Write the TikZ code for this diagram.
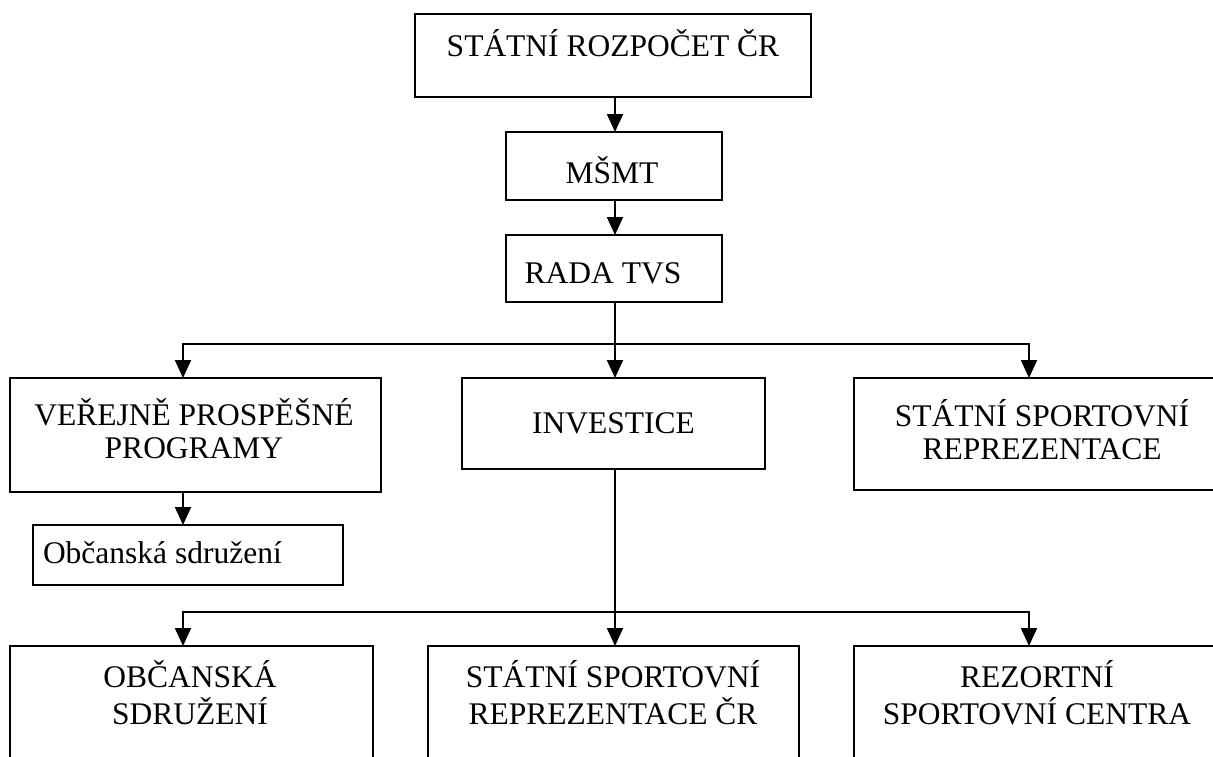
\documentclass[tikz,border=0pt]{standalone}
\usepackage{fontspec}
\setmainfont{Liberation Serif}
\usetikzlibrary{arrows.meta}
\begin{document}
\begin{tikzpicture}[x=1pt,y=-1pt,
  box/.style={draw, line width=1.9pt, rectangle, inner sep=0pt, outer sep=0pt},
  lbl/.style={inner sep=0pt, outer sep=0pt, anchor=base, align=center, font=\fontsize{31.5}{33.5}\selectfont},
  lblb/.style={lbl, font=\fontsize{31.5}{37.5}\selectfont},
  link/.style={line width=1.9pt},
  arr/.style={link, -{Triangle[length=18pt,width=16pt]}}]
\useasboundingbox (0,0) rectangle (1213,756);
\clip (0,0) rectangle (1213,756);
% boxes
\node[box, minimum width=396pt, minimum height=83pt] (b1) at (613,55.5) {};
\node[box, minimum width=216pt, minimum height=68pt] (b2) at (614,166) {};
\node[box, minimum width=216pt, minimum height=67pt] (b3) at (614,268.5) {};
\node[box, minimum width=371pt, minimum height=114pt] (b4) at (195.5,435) {};
\node[box, minimum width=303pt, minimum height=91pt] (b5) at (613.5,423.5) {};
\node[box, minimum width=372pt, minimum height=112pt] (b6) at (1040,434) {};
\node[box, minimum width=310pt, minimum height=60pt] (b7) at (188,555) {};
\node[box, minimum width=363pt, minimum height=124pt] (b8) at (191.5,708) {};
\node[box, minimum width=371pt, minimum height=124pt] (b9) at (613.5,708) {};
\node[box, minimum width=372pt, minimum height=124pt] (b10) at (1040,708) {};
% texts (base anchor = baseline of last line)
\node[lbl] (t1) at (613,56) {STÁTNÍ ROZPOČET ČR};
\node[lbl] (t2) at (612,183) {MŠMT};
\node[lbl] (t3) at (603,283) {RADA TVS};
\node[lbl] (t4) at (194,458.5) {VEŘEJNĚ PROSPĚŠNÉ\\PROGRAMY};
\node[lbl] (t5) at (613.5,433) {INVESTICE};
\node[lbl] (t6) at (1042,459.5) {STÁTNÍ SPORTOVNÍ\\REPREZENTACE};
\node[lbl, anchor=base west] (t7) at (43,563) {Občanská sdružení};
\node[lblb] (t8) at (190,724.5) {OBČANSKÁ\\SDRUŽENÍ};
\node[lblb] (t9) at (613,724.5) {STÁTNÍ SPORTOVNÍ\\REPREZENTACE ČR};
\node[lblb] (t10) at (1037,724.5) {REZORTNÍ\\SPORTOVNÍ CENTRA};
% columns and junctions
\coordinate (cL) at (183,0);
\coordinate (cC) at (615,0);
\coordinate (cR) at (1029,0);
\coordinate (j1) at (615,344);
\coordinate (j2) at (615,612);
% connectors
\draw[arr] (b1.south -| cC) -- (b2.north -| cC);
\draw[arr] (b2.south -| cC) -- (b3.north -| cC);
\draw[link] (b3.south -| cC) -- (j1);
\draw[arr] (j1) -- (j1 -| cL) -- (b4.north -| cL);
\draw[arr] (j1) -- (b5.north -| cC);
\draw[arr] (j1) -- (j1 -| cR) -- (b6.north -| cR);
\draw[arr] (b4.south -| cL) -- (b7.north -| cL);
\draw[link] (b5.south -| cC) -- (j2);
\draw[arr] (j2) -- (j2 -| cL) -- (b8.north -| cL);
\draw[arr] (j2) -- (b9.north -| cC);
\draw[arr] (j2) -- (j2 -| cR) -- (b10.north -| cR);
\end{tikzpicture}
\end{document}
